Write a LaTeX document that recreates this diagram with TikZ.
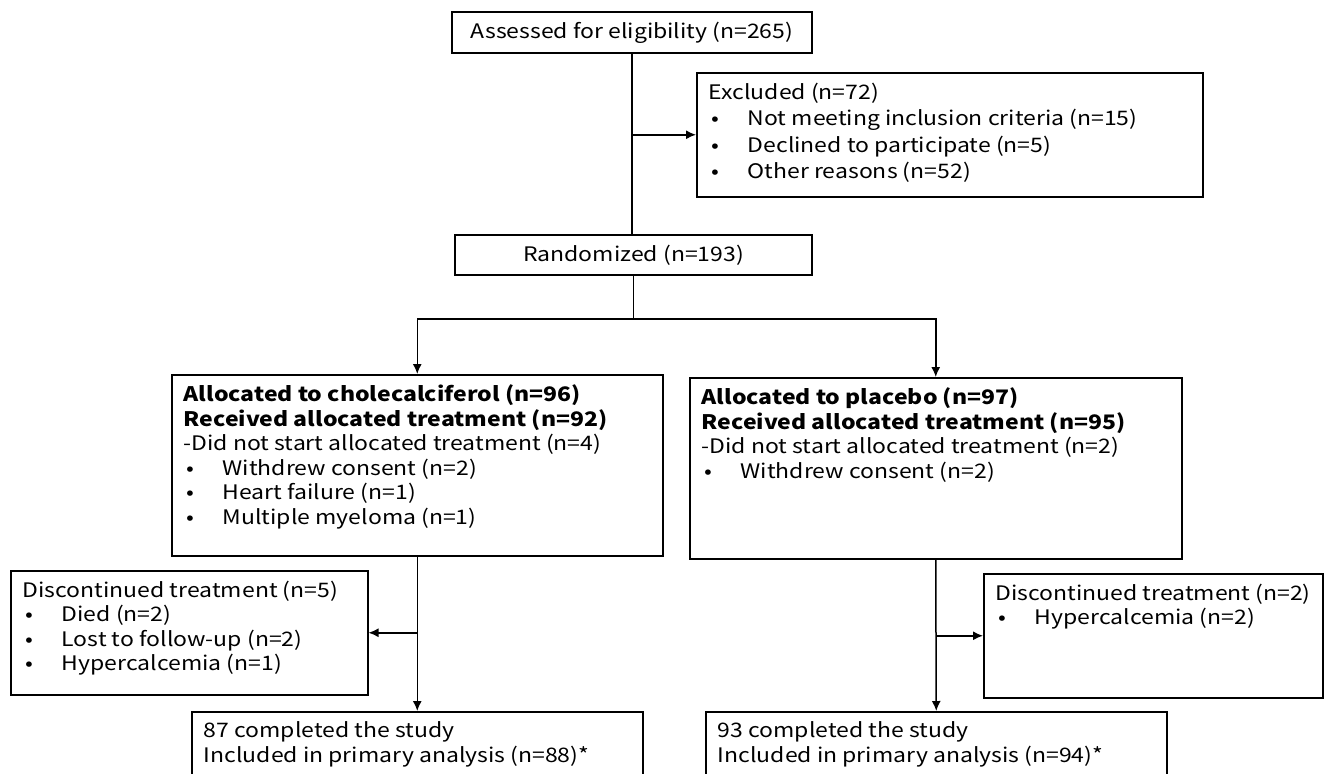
\documentclass[tikz,border=0pt]{standalone}
\usepackage{fontspec}
\setmainfont{Noto Sans CJK JP}[FakeStretch=1.15]
\usetikzlibrary{arrows.meta}

\newcommand{\flowtext}[3]{\parbox[t][\dimexpr#2pt-20pt\relax][t]{\dimexpr#1pt-24pt\relax}{\raggedright#3}}
\newcommand{\itm}[1]{\makebox[39pt][l]{\hspace{3pt}•}#1}

\begin{document}
\begin{tikzpicture}[x=1pt,y=-1pt,
box/.style = {draw, line width=1.5pt, inner xsep=12pt, inner ysep=10pt, font=\fontsize{20}{24.5}\selectfont},
flow/.style = {box, anchor=north west},
link/.style = {line width=1.5pt},
arr/.style = {link, -{Latex[length=10pt,width=9pt]}}]
\useasboundingbox (0,0) rectangle (1326,774);
\clip (0,0) rectangle (1326,774);

    \node[box, minimum width=360pt, minimum height=41pt, inner ysep=2pt] (assess) at (632,32.5) {Assessed for eligibility (n=265)};
    \node[flow, font=\fontsize{20}{26.5}\selectfont] (excl) at (696,72) {\flowtext{506}{124}{Excluded (n=72)\\
        \itm{Not meeting inclusion criteria (n=15)}\\
        \itm{Declined to participate (n=5)}\\
        \itm{Other reasons (n=52)}}};
    \node[box, minimum width=357pt, minimum height=40pt, inner ysep=2pt] (rand) at (633.5,255) {Randomized (n=193)};

    \node[flow] (cholec) at (171,374) {\flowtext{491}{181}{\textbf{Allocated to cholecalciferol (n=96)}\\
        \textbf{Received allocated treatment (n=92)}\\
        -Did not start allocated treatment (n=4)\\
        \itm{Withdrew consent (n=2)}\\
        \itm{Heart failure (n=1)}\\
        \itm{Multiple myeloma (n=1)}}};
    \node[flow] (placebo) at (689,377) {\flowtext{492}{181}{\textbf{Allocated to placebo (n=97)}\\
        \textbf{Received allocated treatment (n=95)}\\
        -Did not start allocated treatment (n=2)\\
        \itm{Withdrew consent (n=2)}}};

    \node[flow] (discL) at (10,570) {\flowtext{357}{124}{Discontinued treatment (n=5)\\
        \itm{Died (n=2)}\\
        \itm{Lost to follow-up (n=2)}\\
        \itm{Hypercalcemia (n=1)}}};
    \node[flow] (discR) at (983,573) {\flowtext{339}{124}{Discontinued treatment (n=2)\\
        \itm{Hypercalcemia (n=2)}}};

    \node[flow] (doneL) at (191,711) {\flowtext{451}{90}{87 completed the study\\
        Included in primary analysis (n=88)*}};
    \node[flow] (doneR) at (705,711) {\flowtext{461}{90}{93 completed the study\\
        Included in primary analysis (n=94)*}};

    % enrolment
    \draw[link] (assess.south) -- (assess.south |- rand.north);
    \draw[arr] (assess.south |- excl.west) -- (excl.west);
    \coordinate (split) at (rand.south |- 0,319);
    \draw[link] (rand.south) -- (split);
    \draw[arr] (split) -| (cholec.north);
    \draw[arr] (split) -| (placebo.north);

    % follow-up
    \draw[arr] (cholec.south) -- (doneL.north);
    \draw[arr] (cholec.south |- discL.east) -- (discL.east);
    \draw[arr] (placebo.south) -- (doneR.north);
    \draw[arr] (placebo.south |- discR.west) -- (discR.west);

\end{tikzpicture}
\end{document}
